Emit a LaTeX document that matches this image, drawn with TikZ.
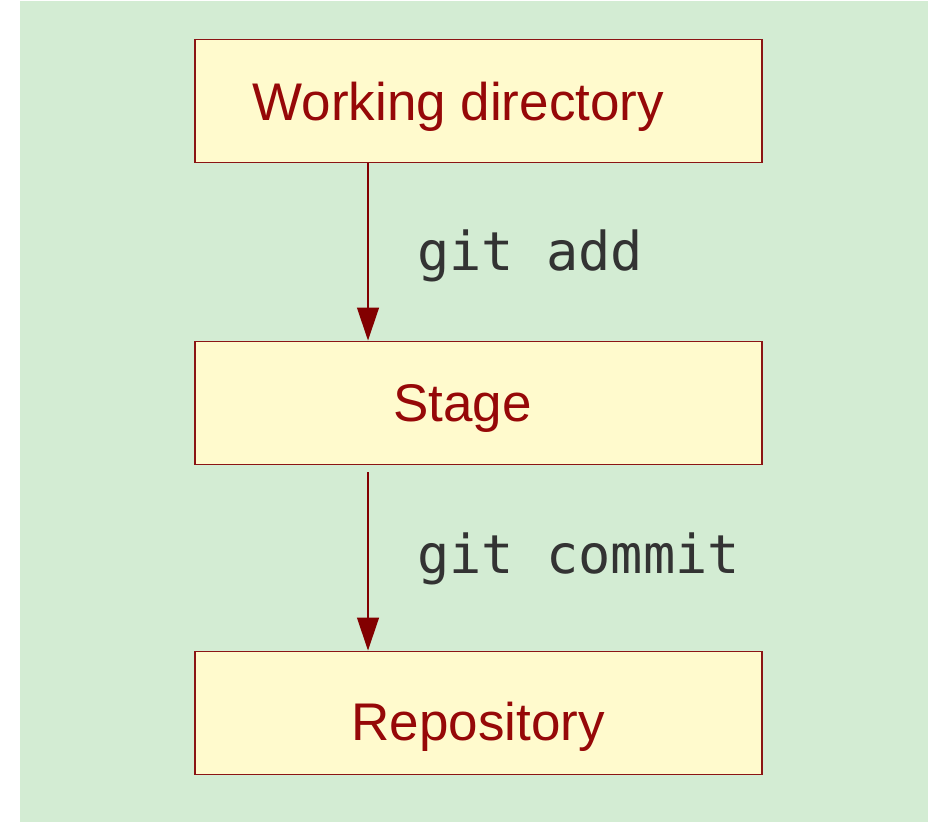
\documentclass[tikz,border=0pt]{standalone}
\usepackage{fontspec}
\setmainfont{Liberation Sans}
\setmonofont{DejaVu Sans Mono}
\usetikzlibrary{arrows.meta}
\definecolor{bggreen}{RGB}{211,236,211}
\definecolor{boxfill}{RGB}{255,250,205}
\definecolor{boxline}{RGB}{139,20,20}
\definecolor{labelred}{RGB}{150,8,8}
\definecolor{arrowred}{RGB}{130,0,0}
\definecolor{cmdgray}{RGB}{51,51,51}
\tikzset{
  stagebox/.style={draw=boxline, fill=boxfill, line width=1.2pt, rectangle,
    minimum width=567pt, minimum height=123pt, inner sep=0pt, anchor=north west},
  boxlabel/.style={text=labelred, inner sep=0pt, anchor=base,
    font=\fontsize{53}{60}\selectfont},
  cmdlabel/.style={text=cmdgray, inner sep=0pt, anchor=base west,
    font=\ttfamily\fontsize{53.6}{60}\selectfont},
  flow/.style={draw=arrowred, line width=1.3pt,
    -{Triangle[width=22pt,length=33pt]}},
}
\begin{document}
\begin{tikzpicture}[x=1pt, y=-1pt]
  \useasboundingbox (0,0) rectangle (936,822);
  % canvas
  \fill[bggreen] (20,0.7) rectangle (928,822);

  % the three areas
  \node[stagebox] (wd) at (194.3,38.5) {};
  \node[stagebox] (st) at (194.3,340.5) {};
  \node[stagebox] (rp) at (194.3,650.5) {};

  \node[boxlabel] (wdl) at (458.3,120) {Working directory};
  \node[boxlabel] (stl) at (462.5,421.7) {Stage};
  \node[boxlabel] (rpl) at (478.3,740) {Repository};

  % transitions between areas
  \coordinate (ax) at (368,0);
  \draw[flow] (wd.south -| ax) -- (st.north -| ax);
  \draw[flow, shorten <=7.7pt] (st.south -| ax) -- (rp.north -| ax);

  \node[cmdlabel] (add) at (417,270.7) {git add};
  \node[cmdlabel] (commit) at (417,573.3) {git commit};
\end{tikzpicture}
\end{document}
